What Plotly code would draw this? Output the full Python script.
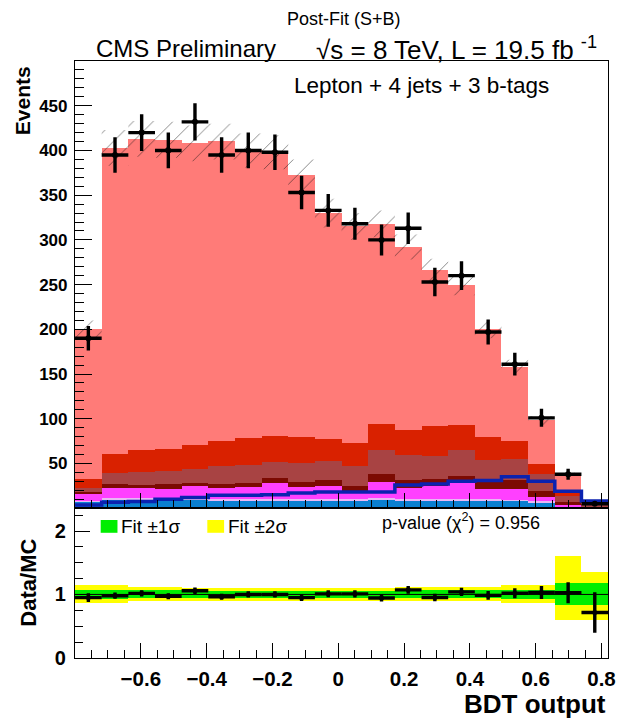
import numpy as np
import plotly.graph_objects as go

# ---- binning of the BDT discriminant ----
bin_edges = np.linspace(-0.80, 0.82, 21)
bin_centers = 0.5 * (bin_edges[:-1] + bin_edges[1:])
half_width = 0.5 * (bin_edges[1] - bin_edges[0])

# ---- observed data (events per bin) ----
data_obs = [190, 395, 420, 400, 432, 395, 400, 398, 353, 333,
            318, 300, 313, 253, 260, 197, 161, 101, 38, 5]

# ---- post-fit background components (stacked bottom -> top) ----
ewk     = [7, 10, 10, 10, 10, 9, 9, 9, 9, 8.5, 8.5, 10, 9, 9, 9, 9, 8, 6.6, 1.5, 0.5]
ttv     = [1.5, 1.5, 1.5, 1.5, 1.5, 1.5, 1.5, 1.5, 1.5, 2, 1.5, 1.5, 1.5, 1.5, 1.5, 1.5, 1.5, 0.9, 0.5, 0.2]
singlet = [7, 11.5, 11.5, 9.8, 13.5, 12.5, 13.5, 17.5, 13.5, 13.7, 9.5, 17.9, 12.5, 14.5, 18.9, 10.8, 11.8, 4.5, 2, 0.5]
ttcc    = [2.5, 3.8, 2.5, 5.5, 3.6, 3.8, 4, 6, 5.4, 7.4, 5.5, 8.4, 8.6, 8, 6.6, 10.3, 10.3, 7.5, 3, 0.8]
ttbb    = [5, 12.8, 14.5, 14.2, 14.7, 20.2, 19.7, 17.4, 21.3, 20.9, 22, 26.8, 28.2, 25.7, 28.6, 22.7, 23.4, 18.3, 6, 1.5]
ttb     = [10, 21.4, 24.5, 25, 27.7, 27.5, 30.3, 29.4, 28.6, 24.5, 26, 29.4, 27.6, 33.1, 28.3, 24.7, 20, 11, 7, 2]
ttlf    = [167, 342, 348.5, 346, 337, 335.5, 322, 317.2, 292.7, 253, 242, 224, 204.6, 174.2, 157.1, 121, 83, 49.2, 17, 1.5]

# ttH signal (drawn as a line, not stacked)
tth = [3.5, 6.5, 7.5, 10, 12, 14.5, 14.5, 15, 17, 18, 18, 18, 26, 27, 30, 31, 35, 30, 19, 8]

# absolute post-fit uncertainty on the total prediction
tot_unc = [10, 20, 20, 20, 20, 20, 19, 19, 18, 16, 15, 15, 14, 13, 12, 10, 8, 5, 2.5, 0.6]

# relative fit uncertainty bands for the ratio panel
sig1_up = [0.07, 0.07, 0.06, 0.06, 0.055, 0.055, 0.055, 0.055, 0.055, 0.055, 0.055, 0.055, 0.06, 0.06, 0.06, 0.06, 0.07, 0.07, 0.18, 0.18]
sig1_dn = [0.07, 0.07, 0.06, 0.06, 0.055, 0.055, 0.055, 0.055, 0.055, 0.055, 0.055, 0.055, 0.06, 0.06, 0.06, 0.06, 0.07, 0.07, 0.17, 0.17]
sig2_up = [0.14, 0.14, 0.11, 0.11, 0.10, 0.10, 0.10, 0.10, 0.10, 0.10, 0.10, 0.10, 0.12, 0.12, 0.12, 0.12, 0.14, 0.14, 0.60, 0.35]
sig2_dn = [0.13, 0.13, 0.10, 0.10, 0.10, 0.10, 0.10, 0.10, 0.10, 0.10, 0.10, 0.10, 0.11, 0.11, 0.11, 0.11, 0.14, 0.14, 0.40, 0.40]

stack = [
    ("V+jets",   ewk,     "#0a7fd0"),
    ("ttV",      ttv,     "#e9b8f5"),
    ("single t", singlet, "#ff40ff"),
    ("tt+cc",    ttcc,    "#7c0a02"),
    ("tt+bb",    ttbb,    "#a84343"),
    ("tt+b",     ttb,     "#d92100"),
    ("tt+lf",    ttlf,    "#ff7b78"),
]

total = np.sum([np.array(c[1], float) for c in stack], axis=0)
data = np.array(data_obs, float)
ratio = data / total
ratio_err = np.sqrt(data) / total

W, H = 624, 725
FONT = "Liberation Sans"


def px(x):
    return x / W


def py(y):
    return 1 - y / H


fig = go.Figure()

# stacked backgrounds
for name, vals, col in stack:
    fig.add_trace(go.Bar(
        x=bin_centers, y=vals, width=2 * half_width, name=name,
        marker=dict(color=col, line=dict(width=0)),
        showlegend=False, xaxis="x", yaxis="y"))

# hatched uncertainty band around the total prediction
edges = list(bin_edges)
up = list(total + np.array(tot_unc))
dn = list(total - np.array(tot_unc))
band_x, band_y = [], []
for i in range(len(bin_centers)):
    band_x += [edges[i], edges[i + 1]]
    band_y += [up[i], up[i]]
for i in reversed(range(len(bin_centers))):
    band_x += [edges[i + 1], edges[i]]
    band_y += [dn[i], dn[i]]
fig.add_trace(go.Scatter(
    x=band_x, y=band_y, fill="toself", mode="none",
    fillcolor="rgba(0,0,0,0)",
    fillpattern=dict(shape="/", fgcolor="#111111", bgcolor="rgba(0,0,0,0)",
                     size=14, solidity=0.07),
    showlegend=False, xaxis="x", yaxis="y", hoverinfo="skip"))

# ttH line
fig.add_trace(go.Scatter(
    x=edges, y=tth + [tth[-1]], mode="lines", line=dict(color="#0b22b0", width=3.5, shape="hv"),
    showlegend=False, xaxis="x", yaxis="y"))

# data points
fig.add_trace(go.Scatter(
    x=bin_centers, y=data, mode="markers",
    marker=dict(color="black", size=6),
    error_y=dict(type="data", array=np.sqrt(data), thickness=3.4, width=0, color="black"),
    error_x=dict(type="data", array=[half_width] * len(data), thickness=3.4, width=0, color="black"),
    showlegend=False, xaxis="x", yaxis="y"))

# ratio panel: fit bands
fig.add_trace(go.Bar(
    x=bin_centers, y=np.array(sig2_up) + np.array(sig2_dn), base=1 - np.array(sig2_dn),
    width=2 * half_width, marker=dict(color="#ffff00", line=dict(width=0)),
    name="Fit \u00b12\u03c3", showlegend=False, xaxis="x2", yaxis="y2"))
fig.add_trace(go.Bar(
    x=bin_centers, y=np.array(sig1_up) + np.array(sig1_dn), base=1 - np.array(sig1_dn),
    width=2 * half_width, marker=dict(color="#00ee00", line=dict(width=0)),
    name="Fit \u00b11\u03c3", showlegend=False, xaxis="x2", yaxis="y2"))

# unity line
fig.add_trace(go.Scatter(
    x=[bin_edges[0], bin_edges[-1]], y=[1, 1], mode="lines",
    line=dict(color="black", width=1), showlegend=False, xaxis="x2", yaxis="y2"))

# ratio points
fig.add_trace(go.Scatter(
    x=bin_centers, y=ratio, mode="markers",
    marker=dict(color="black", size=5),
    error_y=dict(type="data", array=ratio_err, thickness=3.4, width=0, color="black"),
    error_x=dict(type="data", array=[half_width] * len(data), thickness=3.4, width=0, color="black"),
    showlegend=False, xaxis="x2", yaxis="y2"))

xdom = [px(76), px(616)]
top_dom = [py(516), py(62)]
rat_dom = [py(668), py(516)]

xticks = [-0.6, -0.4, -0.2, 0, 0.2, 0.4, 0.6, 0.8]
xminor = [round(v, 2) for v in np.arange(-0.8, 0.83, 0.05)]

common_x = dict(range=[bin_edges[0], bin_edges[-1]], domain=xdom, showgrid=False, zeroline=False,
                showline=True, linecolor="black", linewidth=1.2, mirror=True,
                ticks="inside", ticklen=15, tickwidth=1.2, tickcolor="black",
                tickmode="array", tickvals=xticks,
                minor=dict(tickmode="array", tickvals=xminor, ticks="inside", ticklen=8,
                           tickwidth=1.2, tickcolor="black"))

fig.update_layout(
    width=W, height=H, margin=dict(l=0, r=0, t=0, b=0),
    paper_bgcolor="white", plot_bgcolor="white",
    barmode="stack", bargap=0, showlegend=False,
    font=dict(family=FONT, color="black"),
    xaxis=dict(common_x, anchor="y", showticklabels=False),
    yaxis=dict(domain=top_dom, range=[0, 500], anchor="x", showgrid=False, zeroline=False,
               showline=True, linecolor="black", linewidth=1.2, mirror=True,
               ticks="inside", ticklen=17, tickwidth=1.2, tickcolor="black",
               tickmode="array", tickvals=list(range(50, 500, 50)),
               tickfont=dict(size=17, weight="bold"), ticklabelstandoff=3,
               minor=dict(tickmode="array", tickvals=list(range(10, 500, 10)), ticks="inside",
                          ticklen=9, tickwidth=1.2, tickcolor="black")),
    xaxis2=dict(common_x, anchor="y2", showticklabels=True, ticklabeloverflow="allow",
                tickfont=dict(size=20.5, weight="bold"), ticklabelstandoff=2),
    yaxis2=dict(domain=rat_dom, range=[0, 2.36], anchor="x2", showgrid=False, zeroline=False,
                showline=True, linecolor="black", linewidth=1.2, mirror=True,
                ticks="inside", ticklen=15, tickwidth=1.2, tickcolor="black",
                tickmode="array", tickvals=[0, 1, 2],
                tickfont=dict(size=20, weight="bold"), ticklabelstandoff=4,
                minor=dict(tickmode="array", tickvals=[0.25, 0.5, 0.75, 1.25, 1.5, 1.75, 2.25],
                           ticks="inside", ticklen=8, tickwidth=1.2, tickcolor="black")),
)

# legend of the ratio-panel bands
legend_items = [("Fit \u00b11\u03c3", "#00ee00", 102), ("Fit \u00b12\u03c3", "#ffff00", 210)]
for label, col, x0 in legend_items:
    fig.add_shape(type="rect", xref="paper", yref="paper",
                  x0=px(x0), x1=px(x0 + 17), y0=py(541), y1=py(528),
                  fillcolor=col, line=dict(width=0))
    fig.add_annotation(xref="paper", yref="paper", showarrow=False, x=px(x0 + 19), y=py(535),
                       xanchor="left", yanchor="middle", text=label,
                       font=dict(family=FONT, size=19, color="black"))

ann = dict(xref="paper", yref="paper", showarrow=False, yanchor="middle",
           font=dict(family=FONT, color="black"))
fig.add_annotation(ann, x=px(348), y=py(19), xanchor="center", text="Post-Fit (S+B)", font_size=18)
fig.add_annotation(ann, x=px(95), y=py(49), xanchor="left", text="CMS Preliminary", font_size=24)
fig.add_annotation(ann, x=px(318), y=py(49), xanchor="left",
                   text="\u221as = 8 TeV, L = 19.5 fb <sup>-1</sup>", font_size=26)
fig.add_annotation(ann, x=px(296), y=py(87), xanchor="left",
                   text="Lepton + 4 jets + 3 b-tags", font_size=22.5)
fig.add_annotation(ann, x=px(385), y=py(530), xanchor="left",
                   text="p-value (\u03c7<sup>2</sup>) = 0.956", font_size=18)
fig.add_annotation(ann, x=px(23), y=py(102), xanchor="center", text="<b>Events</b>",
                   textangle=-90, font_size=21)
fig.add_annotation(ann, x=px(28), y=py(592), xanchor="center", text="<b>Data/MC</b>",
                   textangle=-90, font_size=22)
fig.add_annotation(ann, x=px(615), y=py(715), xanchor="right", text="<b>BDT output</b>",
                   font_size=26, borderpad=0)

fig.write_html("out.html")
